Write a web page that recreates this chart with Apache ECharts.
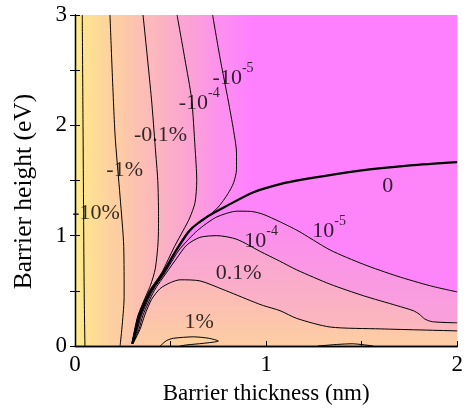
<!DOCTYPE html>
<html><head><meta charset="utf-8">
<script src="https://cdn.jsdelivr.net/npm/echarts@6/dist/echarts.min.js"></script>
<style>html,body{margin:0;padding:0;background:#fff}#c{width:466px;height:410px}</style>
</head><body><div id="c"></div>
<script>
// ---- data ----
const xTickLabels = [0, 1, 2];
const yTickLabels = [0, 1, 2, 3];

// contour lines: [thickness nm, height eV]
const cM10 = [[0.038,3],[0.042,2],[0.045,1.2],[0.048,0.5],[0.052,0]];
const cM1  = [[0.183,3],[0.209,1.93],[0.236,1.35],[0.255,0.9],[0.257,0.45],[0.236,0]];
const cM01 = [[0.356,3],[0.40,2.24],[0.42,1.8],[0.433,1.5],[0.437,1.2],[0.435,0.95],[0.42,0.7],[0.395,0.55],[0.375,0.47],[0.33,0.28],[0.312,0.15],[0.297,0.02]];
const cM4  = [[0.534,3],[0.575,2.6],[0.61,2.24],[0.628,1.8],[0.637,1.5],[0.628,1.3],[0.60,1.16],[0.567,1.05],[0.52,0.9],[0.453,0.663],[0.389,0.5],[0.332,0.28],[0.314,0.15],[0.298,0.02]];
const cM5  = [[0.72,3],[0.76,2.6],[0.80,2.24],[0.83,1.95],[0.845,1.75],[0.845,1.6],[0.83,1.48],[0.80,1.38],[0.75,1.26],[0.68,1.15],[0.597,1.05],[0.527,0.872],[0.457,0.663],[0.393,0.5],[0.336,0.28],[0.317,0.15],[0.299,0.02]];
const cZero = [[0.300,0.02],[0.32,0.15],[0.34,0.28],[0.398,0.5],[0.462,0.663],[0.532,0.872],[0.602,1.05],[0.69,1.17],[0.794,1.27],[0.934,1.393],[1.073,1.467],[1.195,1.51],[1.49,1.59],[1.754,1.637],[2.0,1.667]];
const cP5  = [[0.301,0.02],[0.327,0.15],[0.348,0.28],[0.406,0.5],[0.47,0.663],[0.54,0.86],[0.585,0.95],[0.63,1.03],[0.672,1.09],[0.742,1.17],[0.847,1.222],[0.92,1.22],[0.99,1.19],[1.16,1.05],[1.335,0.87],[1.51,0.74],[1.684,0.634],[1.86,0.545],[2.0,0.49]];
const cP4  = [[0.302,0.02],[0.334,0.15],[0.356,0.28],[0.414,0.5],[0.478,0.663],[0.53,0.79],[0.585,0.915],[0.654,0.985],[0.742,1.0],[0.847,0.967],[0.969,0.857],[1.07,0.77],[1.16,0.69],[1.335,0.56],[1.51,0.455],[1.684,0.366],[1.77,0.32],[1.80,0.29],[1.83,0.245],[1.87,0.22],[2.0,0.21]];
const cP01 = [[0.303,0.02],[0.34,0.15],[0.365,0.28],[0.40,0.42],[0.445,0.52],[0.5,0.575],[0.55,0.6],[0.654,0.59],[0.77,0.515],[0.934,0.4],[0.986,0.366],[1.073,0.32],[1.16,0.25],[1.335,0.172],[1.6,0.155],[2.0,0.137]];
const cP1  = [[0.445,0],[0.48,0.05],[0.515,0.07],[0.62,0.083],[0.70,0.07],[0.75,0.045],[0.67,0.024],[0.585,0.01],[0.55,0]];
const cP1b = [[1.27,0],[1.38,0.015],[1.45,0.02],[1.56,0]];

// contour labels
const labelPos  = [[0.11,1.2],[0.26,1.59],[0.448,1.91],[0.65,2.23],[0.827,2.455],[1.636,1.45],[1.33,1.07],[0.974,0.973],[0.856,0.656],[0.65,0.22]];
const labelText = ['-10%','-1%','-0.1%','{m|-10}{s|-4}','{m|-10}{s|-5}','0','{m|10}{s|-5}','{m|10}{s|-4}','0.1%','1%'];

// ---- build ----
const FONT = '"Liberation Serif","Times New Roman",serif';
const rev = a => a.slice().reverse();
const meanUpper = line => { const u = line.filter(p => p[1] >= 1); return u.reduce((s,p)=>s+p[0],0)/u.length; };

const regions = [
  {pts: [[0,0],[2,0],[2,3],[0,3]], fill: '#fcc9a8'},
  {pts: cP01.concat([[2,0],[0.29,0]]), grad: {from:[0,0], to:[0,0.55], stops:[[0,'#fdcea3'],[1,'#fbb9b9']]}},
  {pts: cP1, fill: '#fdd2a0'},
  {pts: cP4.concat(rev(cP01)), grad: {from:[0,0.2], to:[0,0.95], stops:[[0,'#fbb6be'],[1,'#f9a3d6']]}},
  {pts: cP5.concat(rev(cP4)), grad: {from:[0,0.3], to:[0,1.2], stops:[[0,'#f9a0dc'],[1,'#fc8cf0']]}},
  {pts: cZero.concat(rev(cP5)), fill: '#fe85f9'},
  {pts: [[0,3]].concat(cM10, [[0,0]]), grad: {from:[0,2], to:[meanUpper(cM10),2], stops:[[0,'#feec8b'],[1,'#fde48f']]}},
  {pts: cM10.concat(rev(cM1)), grad: {from:[meanUpper(cM10),2], to:[meanUpper(cM1),2], stops:[[0,'#fde48f'],[1,'#fdcea2']]}},
  {pts: cM1.concat(rev(cM01)), grad: {from:[meanUpper(cM1),2], to:[meanUpper(cM01),2], stops:[[0,'#fdcea2'],[1,'#fcb8bc']]}},
  {pts: cM01.concat(rev(cM4)), grad: {from:[meanUpper(cM01),2], to:[meanUpper(cM4),2], stops:[[0,'#fcb8bc'],[1,'#fba3d4']]}},
  {pts: cM4.concat(rev(cM5)), grad: {from:[meanUpper(cM4),2], to:[meanUpper(cM5),2], stops:[[0,'#fba3d4'],[1,'#fd8ff0']]}},
  {pts: cM5.concat(cZero, [[2,3]]), grad: {from:[meanUpper(cM5),2], to:[meanUpper(cM5)+0.15,2], stops:[[0,'#fd8ff0'],[1,'#ff80ff']]}}
];

function contour(data, width) {
  return {type:'line', data, showSymbol:false, symbol:'none', smooth:0.25, z:3, silent:true,
          lineStyle:{color:'#000', width: width || 1}, animation:false};
}

const chart = echarts.init(document.getElementById('c'));
chart.setOption({
  backgroundColor:'#fff',
  animation:false,
  grid:{left:75, right:8, top:15, bottom:59},
  xAxis:[{
    type:'value', min:0, max:2, interval:0.5, z:10,
    axisLine:{lineStyle:{color:'#000', width:1.3}},
    axisTick:{inside:true, length:5, lineStyle:{color:'#000'}},
    axisLabel:{formatter:v => xTickLabels.includes(v) ? String(v) : '', fontSize:23, fontFamily:FONT, color:'#000', margin:7},
    splitLine:{show:false},
    name:'Barrier thickness (nm)', nameLocation:'middle', nameGap:36,
    nameTextStyle:{fontSize:23, fontFamily:FONT, color:'#000'}
  },{
    type:'value', min:0, max:2, position:'top', z:10,
    axisLine:{show:true, lineStyle:{color:'#000', width:1.3}},
    axisTick:{show:false}, axisLabel:{show:false}, splitLine:{show:false}
  }],
  yAxis:[{
    type:'value', min:0, max:3, interval:0.5, z:10,
    axisLine:{show:true, lineStyle:{color:'#000', width:1.3}},
    axisTick:{show:true, inside:true, length:5, lineStyle:{color:'#000'}},
    axisLabel:{formatter:v => yTickLabels.includes(v) ? String(v) : '', fontSize:23, fontFamily:FONT, color:'#000', margin:8},
    splitLine:{show:false},
    name:'Barrier height (eV)', nameLocation:'middle', nameGap:38,
    nameTextStyle:{fontSize:25.5, fontFamily:FONT, color:'#000', padding:[0,22,0,0]}
  },{
    type:'value', min:0, max:3, interval:0.5, position:'right', z:10,
    axisLine:{show:true, lineStyle:{color:'#000', width:1.3}},
    axisTick:{show:true, inside:true, length:5, lineStyle:{color:'#000'}},
    axisLabel:{show:false}, splitLine:{show:false}
  }],
  series:[
    {
      type:'custom', z:1, silent:true, clip:true,
      data: regions.map(() => [0,0]),
      renderItem:(params, api) => {
        const r = regions[params.dataIndex];
        const points = r.pts.map(p => api.coord(p));
        let fill = r.fill;
        if (r.grad) {
          const a = api.coord(r.grad.from), b = api.coord(r.grad.to);
          fill = new echarts.graphic.LinearGradient(a[0], a[1], b[0], b[1],
            r.grad.stops.map(s => ({offset:s[0], color:s[1]})), true);
        }
        return {type:'polygon', shape:{points}, style:{fill, stroke:null}};
      }
    },
    contour(cM10), contour(cM1), contour(cM01), contour(cM4), contour(cM5),
    contour(cP5), contour(cP4), contour(cP01), contour(cP1), contour(cP1b),
    contour(cZero, 2.2),
    {
      type:'scatter', z:4, silent:true, symbolSize:0,
      data: labelPos,
      label:{
        show:true, position:'inside', color:'#000', fontSize:22, fontFamily:FONT,
        formatter: p => labelText[p.dataIndex],
        rich:{
          m:{fontSize:22, fontFamily:FONT, color:'#000', lineHeight:28, verticalAlign:'bottom'},
          s:{fontSize:14, fontFamily:FONT, color:'#000', lineHeight:14, verticalAlign:'top'}
        }
      }
    }
  ]
});
</script></body></html>
